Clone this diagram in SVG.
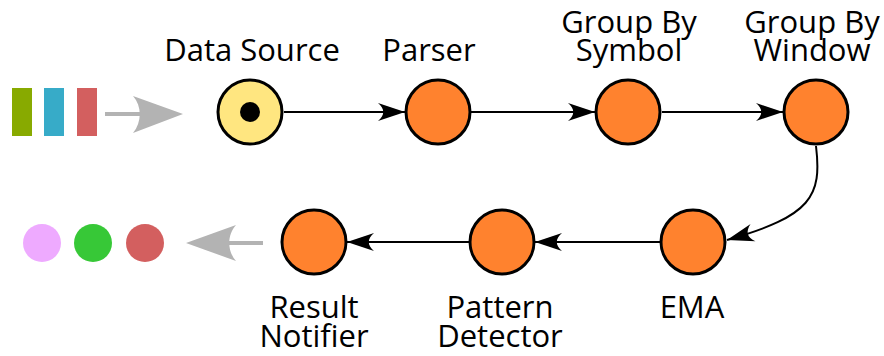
<svg xmlns="http://www.w3.org/2000/svg" width="884" height="356" viewBox="0 0 884 356">
<style>
.node{fill:#ff822e;stroke:#000;stroke-width:3}
.lbl{font-family:"Open Sans","Noto Sans",sans-serif;font-size:31px;fill:#000;text-anchor:middle}
.edge{fill:none;stroke:#000;stroke-width:2}
.gray{fill:none;stroke:#b3b3b3;stroke-width:4}
</style>
<defs>
<marker id="ah" markerUnits="userSpaceOnUse" orient="auto" markerWidth="40" markerHeight="30" viewBox="-30 -15 40 30" refX="0" refY="0" overflow="visible">
<path d="M0,0 L-27,-9 C-20,-3 -20,3 -27,9 Z" fill="#000"/>
</marker>
</defs>
<g id="input">
<rect x="12" y="88" width="20" height="48" fill="#88aa00"/>
<rect x="44" y="88" width="20" height="48" fill="#37abc8"/>
<rect x="77" y="88" width="20" height="48" fill="#d35f5f"/>
<line class="gray" x1="105" y1="114" x2="145" y2="114"/>
<path d="M183,114 L133,96 C142,106 142,122 133,133 Z" fill="#b3b3b3"/>
</g>
<g id="output">
<circle cx="42" cy="243" r="19" fill="#eeaaff"/>
<circle cx="93" cy="243" r="19" fill="#37c837"/>
<circle cx="145" cy="243" r="19" fill="#d35f5f"/>
<line class="gray" x1="263" y1="243" x2="225" y2="243"/>
<path d="M186,243 L236,225 C227,235 227,251 236,261 Z" fill="#b3b3b3"/>
</g>
<g id="connectors">
<line class="edge" x1="284" y1="112" x2="405" y2="112" marker-end="url(#ah)"/>
<line class="edge" x1="471" y1="112" x2="595" y2="112" marker-end="url(#ah)"/>
<line class="edge" x1="662" y1="112" x2="783" y2="112" marker-end="url(#ah)"/>
<path class="edge" d="M816,146 C822,196 812,216 727,240" marker-end="url(#ah)"/>
<line class="edge" x1="660" y1="242" x2="535" y2="242" marker-end="url(#ah)"/>
<line class="edge" x1="469" y1="242" x2="347" y2="242" marker-end="url(#ah)"/>
</g>
<g id="data-source">
<circle cx="250" cy="112" r="32" fill="#ffe680" stroke="#000" stroke-width="3"/>
<circle cx="250" cy="112" r="10" fill="#000"/>
<text class="lbl" x="252" y="61">Data Source</text>
</g>
<g id="parser">
<circle class="node" cx="438" cy="112" r="32"/>
<text class="lbl" x="429" y="61">Parser</text>
</g>
<g id="group-by-symbol">
<circle class="node" cx="628" cy="112" r="32"/>
<text class="lbl" x="629" y="33">Group By</text>
<text class="lbl" x="629" y="61">Symbol</text>
</g>
<g id="group-by-window">
<circle class="node" cx="816" cy="112" r="32"/>
<text class="lbl" x="812" y="33">Group By</text>
<text class="lbl" x="812" y="61">Window</text>
</g>
<g id="ema">
<circle class="node" cx="693" cy="242" r="32"/>
<text class="lbl" x="692" y="318">EMA</text>
</g>
<g id="pattern-detector">
<circle class="node" cx="502" cy="242" r="32"/>
<text class="lbl" x="500" y="318">Pattern</text>
<text class="lbl" x="500" y="347">Detector</text>
</g>
<g id="result-notifier">
<circle class="node" cx="314" cy="242" r="32"/>
<text class="lbl" x="314" y="318">Result</text>
<text class="lbl" x="314" y="347">Notifier</text>
</g>
</svg>
